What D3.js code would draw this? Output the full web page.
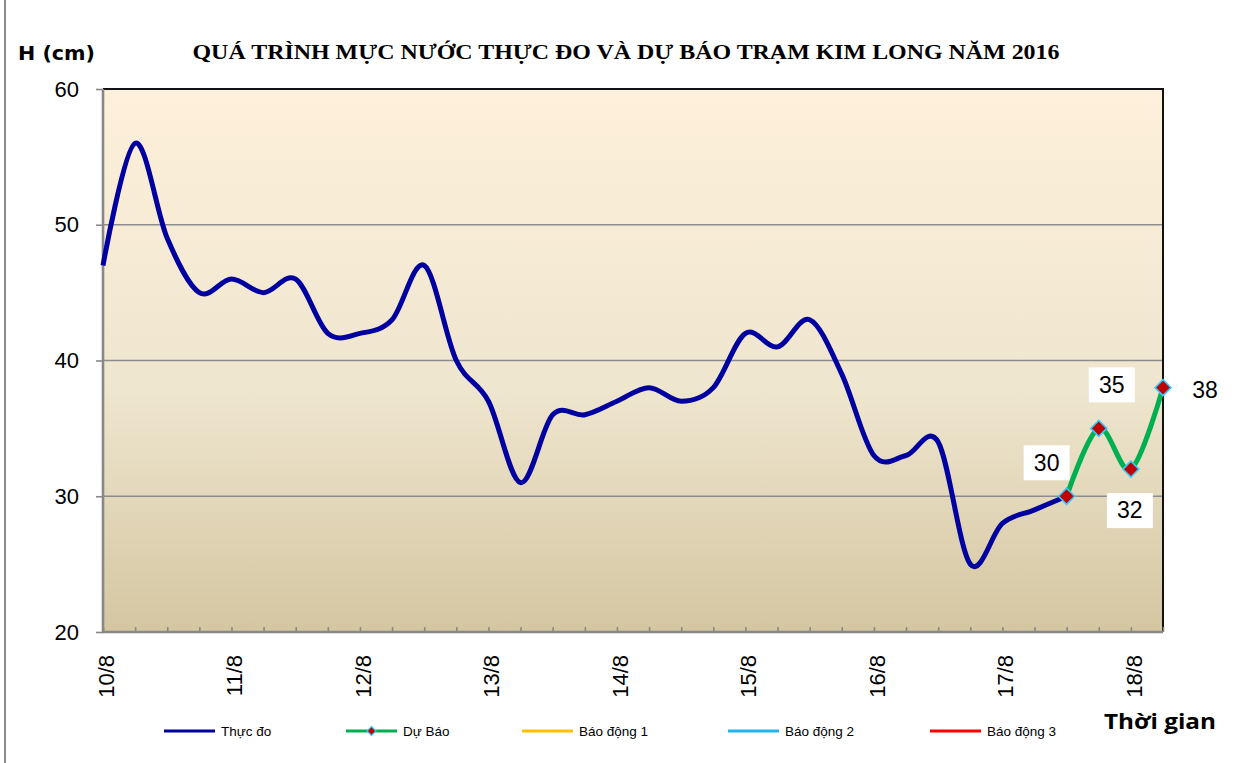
<!DOCTYPE html>
<html>
<head>
<meta charset="utf-8">
<script src="https://cdn.jsdelivr.net/npm/d3@7"></script>
<style>
  body { margin: 0; background: #fff; }
  svg { display: block; font-family: "Liberation Sans", Arial, sans-serif; }
</style>
</head>
<body>
<svg id="chart" width="1240" height="763"></svg>
<script>
// 6-hourly water levels, 4 points per day, 10/8 00h .. 18/8 06h
const dayLabels = ["10/8", "11/8", "12/8", "13/8", "14/8", "15/8", "16/8", "17/8", "18/8"];
const pointsPerDay = 4;
const observed = [47, 56, 49, 45, 46, 45, 46, 42, 42, 43, 47, 40, 37, 31, 36, 36,
                  37, 38, 37, 38, 42, 41, 43, 39, 33, 33, 34, 25, 28, 29, 30];
const forecastStart = 30;
const forecast = [30, 35, 32, 38];
const yTicks = [20, 30, 40, 50, 60];
const legendItems = [
  { name: "Thực đo", color: "#0000A0" },
  { name: "Dự Báo", color: "#00B050", marker: true },
  { name: "Báo động 1", color: "#FFC000" },
  { name: "Báo động 2", color: "#1EB4F0" },
  { name: "Báo động 3", color: "#FF0000" },
];

// layout only: offsets of the data label boxes from their points
const labelOffsets = [[-20, -34], [13, -44], [-1, 41], [42, 2]];
const legendX = [164, 346, 522, 728, 930];

const margin = { left: 103, right: 1240 - 1163, top: 89, bottom: 763 - 632 };
const width = 1240, height = 763;
const nPoints = forecastStart + forecast.length;

const svg = d3.select("#chart");

const x = d3.scalePoint()
  .domain(d3.range(nPoints))
  .range([margin.left, width - margin.right]);

const y = d3.scaleLinear()
  .domain([20, 60])
  .range([height - margin.bottom, margin.top]);

// chart border on the left
svg.append("line")
  .attr("x1", 5).attr("x2", 5)
  .attr("y1", 0).attr("y2", height)
  .attr("stroke", "#8a8a8a").attr("stroke-width", 2);

const defs = svg.append("defs");
const grad = defs.append("linearGradient")
  .attr("id", "plotBg")
  .attr("x1", 0).attr("y1", 0).attr("x2", 0).attr("y2", 1);
grad.append("stop").attr("offset", "0%").attr("stop-color", "#FEF0DA");
grad.append("stop").attr("offset", "55%").attr("stop-color", "#EFE6CF");
grad.append("stop").attr("offset", "100%").attr("stop-color", "#D4C6A1");

const x0 = x(0), x1 = x(nPoints - 1);
const yTop = y(60), yBot = y(20);

svg.append("rect")
  .attr("x", x0).attr("y", yTop)
  .attr("width", x1 - x0).attr("height", yBot - yTop)
  .attr("fill", "url(#plotBg)");

// gridlines
svg.append("g")
  .selectAll("line")
  .data(yTicks.filter(d => d > 20 && d < 60))
  .join("line")
  .attr("x1", x0).attr("x2", x1)
  .attr("y1", d => y(d)).attr("y2", d => y(d))
  .attr("stroke", "#8c8c8c").attr("stroke-width", 1.6);

// plot border top and right
svg.append("path")
  .attr("d", `M${x0},${yTop}H${x1}V${yBot}`)
  .attr("fill", "none")
  .attr("stroke", "#111").attr("stroke-width", 2);

// y axis
const yAxis = svg.append("g")
  .attr("transform", `translate(${x0},0)`)
  .call(d3.axisLeft(y).tickValues(yTicks).tickSize(7).tickPadding(17));
yAxis.select(".domain").remove();
yAxis.selectAll(".tick line").attr("stroke", "#888").attr("stroke-width", 1.6);
yAxis.selectAll(".tick text")
  .attr("fill", "#000")
  .style("font-size", "22px")
  .style("font-family", "'Liberation Sans', Arial, sans-serif");

// x axis: minor ticks pointing up into the plot
const xAxis = svg.append("g")
  .attr("transform", `translate(0,${yBot})`)
  .call(d3.axisBottom(x).tickSize(-5).tickFormat(""));
xAxis.select(".domain").remove();
xAxis.selectAll(".tick line").attr("stroke", "#888").attr("stroke-width", 1.6);

// axis lines
svg.append("path")
  .attr("d", `M${x0},${yTop}V${yBot}H${x1}`)
  .attr("fill", "none")
  .attr("stroke", "#888").attr("stroke-width", 2.6);

// x labels, rotated
svg.append("g")
  .selectAll("text")
  .data(dayLabels)
  .join("text")
  .attr("transform", (d, i) => `translate(${x(i * pointsPerDay) + 3},655) rotate(-90)`)
  .attr("text-anchor", "end")
  .attr("dy", "0.35em")
  .style("font-size", "22px")
  .text(d => d);

// series
const line = d3.line()
  .x(d => x(d.i))
  .y(d => y(d.v))
  .curve(d3.curveCatmullRom.alpha(0));

const obsData = observed.map((v, i) => ({ i, v }));
const fcData = forecast.map((v, k) => ({ i: forecastStart + k, v }));

svg.append("path")
  .datum(obsData)
  .attr("d", line)
  .attr("fill", "none")
  .attr("stroke", "#0000A0")
  .attr("stroke-width", 5)
  .attr("stroke-linejoin", "round");

svg.append("path")
  .datum(fcData)
  .attr("d", line)
  .attr("fill", "none")
  .attr("stroke", "#00B050")
  .attr("stroke-width", 5)
  .attr("stroke-linejoin", "round");

const diamond = r => `M0,${-r}L${r},0L0,${r}L${-r},0Z`;

svg.append("g")
  .selectAll("path")
  .data(fcData)
  .join("path")
  .attr("transform", d => `translate(${x(d.i)},${y(d.v)})`)
  .attr("d", diamond(8))
  .attr("fill", "#C00000")
  .attr("stroke", "#33CCFF")
  .attr("stroke-width", 1.6);

// data labels
const labels = svg.append("g")
  .selectAll("g")
  .data(fcData)
  .join("g")
  .attr("transform", (d, k) => `translate(${x(d.i) + labelOffsets[k][0]},${y(d.v) + labelOffsets[k][1]})`);

labels.append("rect")
  .attr("x", -23).attr("y", -17)
  .attr("width", 46).attr("height", 35)
  .attr("fill", "#fff");

labels.append("text")
  .attr("text-anchor", "middle")
  .attr("dy", "0.36em")
  .style("font-size", "23px")
  .text(d => d.v);

// titles
svg.append("text")
  .attr("x", 626).attr("y", 59)
  .attr("text-anchor", "middle")
  .attr("textLength", 867)
  .attr("lengthAdjust", "spacingAndGlyphs")
  .style("font-family", "'Liberation Serif', 'Times New Roman', serif")
  .style("font-weight", "bold")
  .style("font-size", "21px")
  .text("QUÁ TRÌNH MỰC NƯỚC THỰC ĐO VÀ DỰ BÁO TRẠM KIM LONG NĂM 2016");

svg.append("text")
  .attr("x", 18).attr("y", 60)
  .attr("textLength", 77)
  .attr("lengthAdjust", "spacingAndGlyphs")
  .style("font-family", "'DejaVu Sans', sans-serif")
  .style("font-weight", "bold")
  .style("font-size", "20px")
  .text("H (cm)");

svg.append("text")
  .attr("x", 1104).attr("y", 729)
  .attr("textLength", 112)
  .attr("lengthAdjust", "spacingAndGlyphs")
  .style("font-family", "'Open Sans', sans-serif")
  .style("font-weight", "bold")
  .style("font-size", "21px")
  .text("Thời gian");

// legend
const legend = svg.append("g")
  .selectAll("g")
  .data(legendItems)
  .join("g")
  .attr("transform", (d, i) => `translate(${legendX[i]},731)`);

legend.append("line")
  .attr("x1", 0).attr("x2", 51)
  .attr("stroke", d => d.color)
  .attr("stroke-width", 3);

legend.filter(d => d.marker)
  .append("path")
  .attr("transform", "translate(25.5,0)")
  .attr("d", diamond(4.5))
  .attr("fill", "#C00000")
  .attr("stroke", "#33CCFF")
  .attr("stroke-width", 1.2);

legend.append("text")
  .attr("x", 57)
  .attr("dy", "0.35em")
  .style("font-size", "13.5px")
  .text(d => d.name);
</script>
</body>
</html>
